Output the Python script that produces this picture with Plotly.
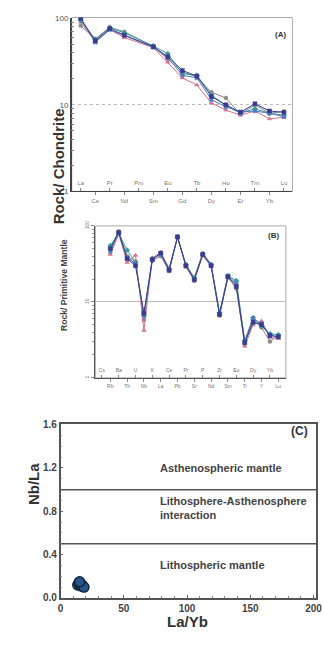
import plotly.graph_objects as go

# ---------------- data ----------------
ree_elements = ["La", "Ce", "Pr", "Nd", "Pm", "Sm", "Eu", "Gd", "Tb", "Dy", "Ho", "Er", "Tm", "Yb", "Lu"]
# chondrite-normalised REE (Pm not analysed)
ree_s1 = [100, 55, 76, 64, None, 47, 36, 25, 21.5, 12.5, 10.0, 8.2, 10.3, 8.5, 8.2]
ree_s2 = [95, 57, 78, 68, None, 48, 39, 23, 22, 13, 9.8, 8.0, 9.0, 8.0, 7.6]
ree_s3 = [90, 54, 74, 60, None, 46, 31, 20.5, 17, 10.5, 8.7, 7.6, 8.5, 6.9, 7.2]
ree_s4 = [82, 58, 79, 70, None, 47.5, 34, 24, 21, 14, 12, 7.8, 10.0, 8.0, 8.4]
ree_s5 = [97, 53, 74, 63, None, 46.5, 35, 22, 20.5, 11.5, 9.5, 8.3, 8.5, 8.0, 7.3]

spider_elements = ["Cs", "Rb", "Ba", "Th", "U", "Nb", "K", "La", "Ce", "Pb", "Pr",
                   "Sr", "P", "Nd", "Zr", "Sm", "Eu", "Ti", "Dy", "Y", "Yb", "Lu"]
# primitive-mantle-normalised trace elements (Cs not analysed)
pm_s1 = [None, 50, 82, 37, 30, 7.1, 36, 44, 26, 72, 30, 19.5, 42, 30, 6.8, 21.5, 16, 2.9, 5.4, 5.0, 3.6, 3.5]
pm_s2 = [None, 55, 80, 48, 33, 6.5, 37, 42, 27, 71, 31, 20.5, 43, 31, 7.2, 22, 19, 3.1, 6.2, 4.8, 3.8, 3.7]
pm_s3 = [None, 42, 78, 33, 41, 4.2, 38, 45, 28, 70, 30.5, 21, 44, 31.5, 7.0, 21, 17, 2.6, 5.0, 5.6, 3.4, 3.3]
pm_s4 = [None, 52, 85, 40, 34, 5.8, 35, 40, 25.5, 72, 29, 19, 41, 29.5, 6.6, 21, 15, 2.8, 5.8, 4.6, 3.0, 3.6]
pm_s5 = [None, 46, 80, 38, 32, 6.8, 36.5, 43, 26.5, 71, 30, 20, 42.5, 30.5, 7.0, 22, 17.5, 3.0, 6.0, 5.2, 3.7, 3.4]

la_yb = [13.5, 14.5, 15.5, 16.0, 17.0, 18.5, 15.0]
nb_la = [0.12, 0.14, 0.13, 0.11, 0.12, 0.10, 0.15]

source_bounds = [0.5, 1.0]
source_labels = ["Lithospheric mantle", "Lithosphere-Asthenosphere<br>interaction", "Asthenospheric mantle"]
source_label_y = [0.30, 0.83, 1.20]

series_colors = ["#3d3b8e", "#3a9e9c", "#d6708e", "#8a8a8a", "#4f7cc0"]
series_symbols = ["square", "diamond", "triangle-up", "circle", "x"]
draw_order = (3, 2, 1, 4, 0)

W, H = 323, 646
FONT = "Liberation Sans"


def px_x(p):
    return p / W


def px_y(p):
    return 1 - p / H


fig = go.Figure()

# ---------------- panel A: REE ----------------
ree_series = [ree_s1, ree_s2, ree_s3, ree_s4, ree_s5]
for i in draw_order:
    c = series_colors[i]
    fig.add_trace(go.Scatter(x=list(range(len(ree_elements))), y=ree_series[i], mode="lines+markers",
                             connectgaps=True, line=dict(color=c, width=1),
                             marker=dict(symbol=series_symbols[i], size=4, color=c,
                                         line=dict(width=0.5, color=c)),
                             xaxis="x", yaxis="y", showlegend=False))

# ---------------- panel B: spider ----------------
pm_series = [pm_s1, pm_s2, pm_s3, pm_s4, pm_s5]
for i in draw_order:
    c = series_colors[i]
    fig.add_trace(go.Scatter(x=list(range(len(spider_elements))), y=pm_series[i], mode="lines+markers",
                             connectgaps=True, line=dict(color=c, width=1),
                             marker=dict(symbol=series_symbols[i], size=4, color=c,
                                         line=dict(width=0.5, color=c)),
                             xaxis="x2", yaxis="y2", showlegend=False))

# empty helper traces so the upper-row element axes get drawn
fig.add_trace(go.Scatter(x=[None], y=[None], xaxis="x4", yaxis="y", showlegend=False, hoverinfo="skip"))
fig.add_trace(go.Scatter(x=[None], y=[None], xaxis="x5", yaxis="y2", showlegend=False, hoverinfo="skip"))

# ---------------- panel C: Nb/La vs La/Yb ----------------
fig.add_trace(go.Scatter(x=la_yb, y=nb_la, mode="markers",
                         marker=dict(size=10, color="#25578a", line=dict(width=1.3, color="#0f2238")),
                         xaxis="x3", yaxis="y3", showlegend=False))

tick_font_a = dict(family=FONT, size=6, color="#777")
tick_font_b = dict(family=FONT, size=5, color="#777")

# element ticks: alternate labels below (outside) and above (inside) the axis
ree_idx = list(range(len(ree_elements)))
sp_idx = list(range(len(spider_elements)))
minor_log = [2, 3, 4, 5, 6, 7, 8, 9, 20, 30, 40, 50, 60, 70, 80, 90]

common_x = dict(showgrid=False, zeroline=False, fixedrange=True)

fig.update_layout(
    width=W, height=H, margin=dict(l=0, r=0, t=0, b=0),
    paper_bgcolor="white", plot_bgcolor="white",
    font=dict(family=FONT),
    xaxis=dict(domain=[px_x(70.7), px_x(297.7)], range=[-0.62, 14.58], anchor="y",
               tickmode="array", tickvals=ree_idx[1::2], ticktext=ree_elements[1::2],
               ticks="outside", ticklen=3, tickcolor="#888", tickfont=tick_font_a,
               showline=True, linecolor="#444", linewidth=1, **common_x),
    xaxis4=dict(overlaying="x", anchor="y", side="bottom", range=[-0.62, 14.58],
                tickmode="array", tickvals=ree_idx[0::2], ticktext=ree_elements[0::2],
                ticks="inside", ticklen=3, tickcolor="#888", ticklabelposition="inside",
                ticklabeloverflow="allow", tickfont=tick_font_a, showline=False, **common_x),
    yaxis=dict(domain=[px_y(189.3), px_y(12.7)], type="log", range=[0, 2.01], anchor="x",
               tickmode="array", tickvals=[1, 10, 100], ticktext=["1", "10", "100"],
               ticks="", tickfont=dict(family=FONT, size=8, color="#555"),
               minor=dict(tickvals=minor_log, ticks="inside", ticklen=3, tickcolor="#888", showgrid=False),
               showgrid=True, gridcolor="#bbb", griddash="dot", gridwidth=1,
               showline=True, linecolor="#444", linewidth=1.5, zeroline=False, fixedrange=True),

    xaxis2=dict(domain=[px_x(95), px_x(291)], range=[-0.78, 21.9], anchor="y2",
                tickmode="array", tickvals=sp_idx[1::2], ticktext=spider_elements[1::2],
                ticks="outside", ticklen=3, tickcolor="#888", tickfont=tick_font_b,
                showline=True, linecolor="#555", linewidth=1, **common_x),
    xaxis5=dict(overlaying="x2", anchor="y2", side="bottom", range=[-0.78, 21.9],
                tickmode="array", tickvals=sp_idx[0::2], ticktext=spider_elements[0::2],
                ticks="inside", ticklen=3, tickcolor="#888", ticklabelposition="inside",
                ticklabeloverflow="allow", tickfont=tick_font_b, showline=False, **common_x),
    yaxis2=dict(domain=[px_y(378.7), px_y(224.4)], type="log", range=[0, 2.0], anchor="x2",
                tickmode="array", tickvals=[1, 10, 100], ticktext=["1", "10", "100"],
                tickangle=-90, ticks="outside", ticklen=3, tickcolor="#888", tickfont=tick_font_b,
                minor=dict(tickvals=minor_log, ticks="outside", ticklen=2, tickcolor="#999", showgrid=False),
                showgrid=True, gridcolor="#bbb", gridwidth=1,
                showline=True, linecolor="#555", linewidth=1, zeroline=False, fixedrange=True),

    xaxis3=dict(domain=[px_x(59.3), px_x(322)], range=[0, 202], anchor="y3",
                tickmode="array", tickvals=[0, 50, 100, 150, 200],
                ticks="inside", ticklen=3, tickcolor="#666", ticklabeloverflow="allow",
                minor=dict(dtick=10, ticks="inside", ticklen=2, tickcolor="#888"),
                tickfont=dict(family=FONT, size=10, color="#444", weight="bold"),
                showline=True, mirror=True, linecolor="#555", linewidth=1.5,
                showgrid=False, zeroline=False, fixedrange=True),
    yaxis3=dict(domain=[px_y(602.3), px_y(425.5)], range=[0, 1.607], anchor="x3",
                tickmode="array", tickvals=[0, 0.4, 0.8, 1.2, 1.6],
                ticktext=["0.0", "0.4", "0.8", "1.2", "1.6"],
                ticks="inside", ticklen=3, tickcolor="#666",
                minor=dict(dtick=0.1, ticks="inside", ticklen=2, tickcolor="#888"),
                tickfont=dict(family=FONT, size=10, color="#444", weight="bold"),
                showline=True, mirror=True, linecolor="#555", linewidth=1.5,
                showgrid=False, zeroline=False, fixedrange=True),
)

# light frame around the two spider panels
for xr, yr in (("x", "y"), ("x2", "y2")):
    fig.add_shape(type="rect", xref=f"{xr} domain", yref=f"{yr} domain", x0=0, x1=1, y0=0, y1=1,
                  line=dict(color="#aaa", width=1), layer="below")

# source-field boundaries
for b in source_bounds:
    fig.add_shape(type="line", xref="x3 domain", yref="y3", x0=0, x1=1, y0=b, y1=b,
                  line=dict(color="#555", width=1.5))

for txt, yv in zip(source_labels, source_label_y):
    fig.add_annotation(x=77, y=yv, xref="x3", yref="y3", text=f"<b>{txt}</b>", showarrow=False,
                       xanchor="left", yanchor="middle", align="left",
                       font=dict(family=FONT, size=11, color="#444"))

# panel letters and axis titles
fig.add_annotation(x=px_x(293), y=px_y(23), xref="paper", yref="paper", text="<b>(A)</b>",
                   showarrow=False, xanchor="right", font=dict(family=FONT, size=8, color="#333"))
fig.add_annotation(x=px_x(286), y=px_y(234), xref="paper", yref="paper", text="<b>(B)</b>",
                   showarrow=False, xanchor="right", font=dict(family=FONT, size=8, color="#333"))
fig.add_annotation(x=px_x(316), y=px_y(442), xref="paper", yref="paper", text="<b>(C)</b>",
                   showarrow=False, xanchor="right", font=dict(family=FONT, size=12, color="#333"))

fig.add_annotation(x=px_x(45.7), y=px_y(103), xref="paper", yref="paper", text="<b>Rock/ Chondrite</b>",
                   textangle=-90, showarrow=False, font=dict(family=FONT, size=15, color="#333"))
fig.add_annotation(x=px_x(55), y=px_y(284), xref="paper", yref="paper", text="<b>Rock/ Primitive Mantle</b>",
                   textangle=-90, showarrow=False, font=dict(family=FONT, size=8.6, color="#444"))
fig.add_annotation(x=px_x(20), y=px_y(510), xref="paper", yref="paper", text="<b>Nb/La</b>",
                   textangle=-90, showarrow=False, font=dict(family=FONT, size=15, color="#333"))
fig.add_annotation(x=px_x(190), y=px_y(637), xref="paper", yref="paper", text="<b>La/Yb</b>",
                   showarrow=False, font=dict(family=FONT, size=15, color="#333"))

fig.write_html("out.html")
